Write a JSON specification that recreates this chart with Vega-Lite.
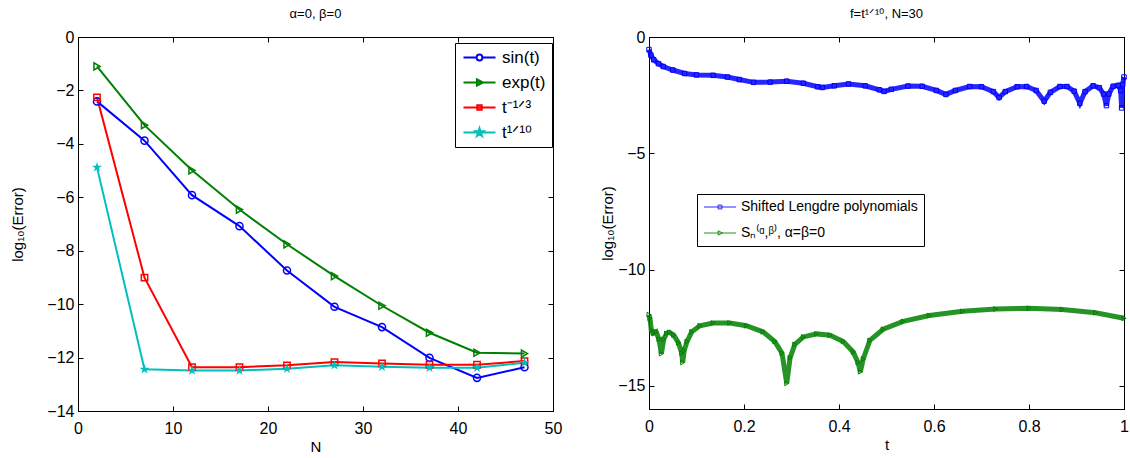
{
  "$schema": "https://vega.github.io/schema/vega-lite/v6.json",
  "spacing": 37,
  "padding": {"left": 10, "top": 7, "right": 5, "bottom": 5},
  "resolve": {"scale": {"color": "independent", "shape": "independent"}, "legend": {"color": "independent", "shape": "independent"}},
  "datasets": {
    "left": [
      {"N": 2, "series": "sin(t)", "v": -2.41}, {"N": 7, "series": "sin(t)", "v": -3.88}, {"N": 12, "series": "sin(t)", "v": -5.92}, {"N": 17, "series": "sin(t)", "v": -7.08}, {"N": 22, "series": "sin(t)", "v": -8.74}, {"N": 27, "series": "sin(t)", "v": -10.1}, {"N": 32, "series": "sin(t)", "v": -10.86}, {"N": 37, "series": "sin(t)", "v": -12.01}, {"N": 42, "series": "sin(t)", "v": -12.76}, {"N": 47, "series": "sin(t)", "v": -12.36},
      {"N": 2, "series": "exp(t)", "v": -1.1}, {"N": 7, "series": "exp(t)", "v": -3.3}, {"N": 12, "series": "exp(t)", "v": -4.99}, {"N": 17, "series": "exp(t)", "v": -6.46}, {"N": 22, "series": "exp(t)", "v": -7.76}, {"N": 27, "series": "exp(t)", "v": -8.95}, {"N": 32, "series": "exp(t)", "v": -10.06}, {"N": 37, "series": "exp(t)", "v": -11.07}, {"N": 42, "series": "exp(t)", "v": -11.82}, {"N": 47, "series": "exp(t)", "v": -11.85},
      {"N": 2, "series": "t⁻¹ᐟ³", "v": -2.26}, {"N": 7, "series": "t⁻¹ᐟ³", "v": -9.01}, {"N": 12, "series": "t⁻¹ᐟ³", "v": -12.36}, {"N": 17, "series": "t⁻¹ᐟ³", "v": -12.36}, {"N": 22, "series": "t⁻¹ᐟ³", "v": -12.29}, {"N": 27, "series": "t⁻¹ᐟ³", "v": -12.17}, {"N": 32, "series": "t⁻¹ᐟ³", "v": -12.22}, {"N": 37, "series": "t⁻¹ᐟ³", "v": -12.27}, {"N": 42, "series": "t⁻¹ᐟ³", "v": -12.27}, {"N": 47, "series": "t⁻¹ᐟ³", "v": -12.13},
      {"N": 2, "series": "t¹ᐟ¹⁰", "v": -4.88}, {"N": 7, "series": "t¹ᐟ¹⁰", "v": -12.44}, {"N": 12, "series": "t¹ᐟ¹⁰", "v": -12.48}, {"N": 17, "series": "t¹ᐟ¹⁰", "v": -12.48}, {"N": 22, "series": "t¹ᐟ¹⁰", "v": -12.42}, {"N": 27, "series": "t¹ᐟ¹⁰", "v": -12.29}, {"N": 32, "series": "t¹ᐟ¹⁰", "v": -12.34}, {"N": 37, "series": "t¹ᐟ¹⁰", "v": -12.38}, {"N": 42, "series": "t¹ᐟ¹⁰", "v": -12.38}, {"N": 47, "series": "t¹ᐟ¹⁰", "v": -12.19}
    ],
    "right": [
      {"s": "Shifted Lengdre polynomials", "t": 0, "v": -0.54}, {"s": "Shifted Lengdre polynomials", "t": 0.004, "v": -0.78}, {"s": "Shifted Lengdre polynomials", "t": 0.01, "v": -0.98}, {"s": "Shifted Lengdre polynomials", "t": 0.02, "v": -1.15}, {"s": "Shifted Lengdre polynomials", "t": 0.03, "v": -1.27}, {"s": "Shifted Lengdre polynomials", "t": 0.05, "v": -1.42}, {"s": "Shifted Lengdre polynomials", "t": 0.075, "v": -1.57}, {"s": "Shifted Lengdre polynomials", "t": 0.1, "v": -1.63}, {"s": "Shifted Lengdre polynomials", "t": 0.135, "v": -1.65}, {"s": "Shifted Lengdre polynomials", "t": 0.165, "v": -1.72}, {"s": "Shifted Lengdre polynomials", "t": 0.19, "v": -1.83}, {"s": "Shifted Lengdre polynomials", "t": 0.22, "v": -1.95}, {"s": "Shifted Lengdre polynomials", "t": 0.255, "v": -1.94}, {"s": "Shifted Lengdre polynomials", "t": 0.29, "v": -1.9}, {"s": "Shifted Lengdre polynomials", "t": 0.325, "v": -1.99}, {"s": "Shifted Lengdre polynomials", "t": 0.355, "v": -2.14}, {"s": "Shifted Lengdre polynomials", "t": 0.365, "v": -2.17}, {"s": "Shifted Lengdre polynomials", "t": 0.39, "v": -2.1}, {"s": "Shifted Lengdre polynomials", "t": 0.42, "v": -2.02}, {"s": "Shifted Lengdre polynomials", "t": 0.455, "v": -2.1}, {"s": "Shifted Lengdre polynomials", "t": 0.485, "v": -2.27}, {"s": "Shifted Lengdre polynomials", "t": 0.495, "v": -2.34}, {"s": "Shifted Lengdre polynomials", "t": 0.51, "v": -2.25}, {"s": "Shifted Lengdre polynomials", "t": 0.545, "v": -2.11}, {"s": "Shifted Lengdre polynomials", "t": 0.575, "v": -2.12}, {"s": "Shifted Lengdre polynomials", "t": 0.605, "v": -2.3}, {"s": "Shifted Lengdre polynomials", "t": 0.625, "v": -2.47}, {"s": "Shifted Lengdre polynomials", "t": 0.645, "v": -2.3}, {"s": "Shifted Lengdre polynomials", "t": 0.675, "v": -2.13}, {"s": "Shifted Lengdre polynomials", "t": 0.7, "v": -2.14}, {"s": "Shifted Lengdre polynomials", "t": 0.725, "v": -2.35}, {"s": "Shifted Lengdre polynomials", "t": 0.737, "v": -2.6}, {"s": "Shifted Lengdre polynomials", "t": 0.75, "v": -2.35}, {"s": "Shifted Lengdre polynomials", "t": 0.775, "v": -2.14}, {"s": "Shifted Lengdre polynomials", "t": 0.795, "v": -2.13}, {"s": "Shifted Lengdre polynomials", "t": 0.815, "v": -2.3}, {"s": "Shifted Lengdre polynomials", "t": 0.832, "v": -2.76}, {"s": "Shifted Lengdre polynomials", "t": 0.845, "v": -2.38}, {"s": "Shifted Lengdre polynomials", "t": 0.865, "v": -2.13}, {"s": "Shifted Lengdre polynomials", "t": 0.88, "v": -2.13}, {"s": "Shifted Lengdre polynomials", "t": 0.895, "v": -2.33}, {"s": "Shifted Lengdre polynomials", "t": 0.907, "v": -2.85}, {"s": "Shifted Lengdre polynomials", "t": 0.918, "v": -2.35}, {"s": "Shifted Lengdre polynomials", "t": 0.935, "v": -2.1}, {"s": "Shifted Lengdre polynomials", "t": 0.948, "v": -2.18}, {"s": "Shifted Lengdre polynomials", "t": 0.957, "v": -2.45}, {"s": "Shifted Lengdre polynomials", "t": 0.963, "v": -2.95}, {"s": "Shifted Lengdre polynomials", "t": 0.968, "v": -2.45}, {"s": "Shifted Lengdre polynomials", "t": 0.977, "v": -2.12}, {"s": "Shifted Lengdre polynomials", "t": 0.988, "v": -2.08}, {"s": "Shifted Lengdre polynomials", "t": 0.993, "v": -2.3}, {"s": "Shifted Lengdre polynomials", "t": 0.995, "v": -3.05}, {"s": "Shifted Lengdre polynomials", "t": 0.997, "v": -2.05}, {"s": "Shifted Lengdre polynomials", "t": 1.0, "v": -1.72},
      {"s": "Sₙ⁽ᵅ,ᵝ⁾, α=β=0", "t": 0, "v": -11.94}, {"s": "Sₙ⁽ᵅ,ᵝ⁾, α=β=0", "t": 0.002, "v": -12.1}, {"s": "Sₙ⁽ᵅ,ᵝ⁾, α=β=0", "t": 0.005, "v": -12.6}, {"s": "Sₙ⁽ᵅ,ᵝ⁾, α=β=0", "t": 0.009, "v": -12.74}, {"s": "Sₙ⁽ᵅ,ᵝ⁾, α=β=0", "t": 0.015, "v": -12.68}, {"s": "Sₙ⁽ᵅ,ᵝ⁾, α=β=0", "t": 0.021, "v": -13.0}, {"s": "Sₙ⁽ᵅ,ᵝ⁾, α=β=0", "t": 0.026, "v": -13.62}, {"s": "Sₙ⁽ᵅ,ᵝ⁾, α=β=0", "t": 0.031, "v": -13.0}, {"s": "Sₙ⁽ᵅ,ᵝ⁾, α=β=0", "t": 0.037, "v": -12.75}, {"s": "Sₙ⁽ᵅ,ᵝ⁾, α=β=0", "t": 0.043, "v": -12.7}, {"s": "Sₙ⁽ᵅ,ᵝ⁾, α=β=0", "t": 0.052, "v": -12.82}, {"s": "Sₙ⁽ᵅ,ᵝ⁾, α=β=0", "t": 0.062, "v": -13.15}, {"s": "Sₙ⁽ᵅ,ᵝ⁾, α=β=0", "t": 0.069, "v": -13.6}, {"s": "Sₙ⁽ᵅ,ᵝ⁾, α=β=0", "t": 0.071, "v": -14.0}, {"s": "Sₙ⁽ᵅ,ᵝ⁾, α=β=0", "t": 0.074, "v": -13.5}, {"s": "Sₙ⁽ᵅ,ᵝ⁾, α=β=0", "t": 0.08, "v": -13.1}, {"s": "Sₙ⁽ᵅ,ᵝ⁾, α=β=0", "t": 0.09, "v": -12.68}, {"s": "Sₙ⁽ᵅ,ᵝ⁾, α=β=0", "t": 0.107, "v": -12.42}, {"s": "Sₙ⁽ᵅ,ᵝ⁾, α=β=0", "t": 0.135, "v": -12.3}, {"s": "Sₙ⁽ᵅ,ᵝ⁾, α=β=0", "t": 0.17, "v": -12.3}, {"s": "Sₙ⁽ᵅ,ᵝ⁾, α=β=0", "t": 0.205, "v": -12.42}, {"s": "Sₙ⁽ᵅ,ᵝ⁾, α=β=0", "t": 0.24, "v": -12.68}, {"s": "Sₙ⁽ᵅ,ᵝ⁾, α=β=0", "t": 0.265, "v": -13.1}, {"s": "Sₙ⁽ᵅ,ᵝ⁾, α=β=0", "t": 0.28, "v": -13.6}, {"s": "Sₙ⁽ᵅ,ᵝ⁾, α=β=0", "t": 0.29, "v": -14.9}, {"s": "Sₙ⁽ᵅ,ᵝ⁾, α=β=0", "t": 0.297, "v": -13.8}, {"s": "Sₙ⁽ᵅ,ᵝ⁾, α=β=0", "t": 0.307, "v": -13.22}, {"s": "Sₙ⁽ᵅ,ᵝ⁾, α=β=0", "t": 0.325, "v": -12.9}, {"s": "Sₙ⁽ᵅ,ᵝ⁾, α=β=0", "t": 0.353, "v": -12.77}, {"s": "Sₙ⁽ᵅ,ᵝ⁾, α=β=0", "t": 0.381, "v": -12.83}, {"s": "Sₙ⁽ᵅ,ᵝ⁾, α=β=0", "t": 0.409, "v": -13.1}, {"s": "Sₙ⁽ᵅ,ᵝ⁾, α=β=0", "t": 0.43, "v": -13.55}, {"s": "Sₙ⁽ᵅ,ᵝ⁾, α=β=0", "t": 0.44, "v": -14.0}, {"s": "Sₙ⁽ᵅ,ᵝ⁾, α=β=0", "t": 0.445, "v": -14.4}, {"s": "Sₙ⁽ᵅ,ᵝ⁾, α=β=0", "t": 0.451, "v": -13.85}, {"s": "Sₙ⁽ᵅ,ᵝ⁾, α=β=0", "t": 0.465, "v": -13.05}, {"s": "Sₙ⁽ᵅ,ᵝ⁾, α=β=0", "t": 0.493, "v": -12.57}, {"s": "Sₙ⁽ᵅ,ᵝ⁾, α=β=0", "t": 0.535, "v": -12.23}, {"s": "Sₙ⁽ᵅ,ᵝ⁾, α=β=0", "t": 0.59, "v": -11.98}, {"s": "Sₙ⁽ᵅ,ᵝ⁾, α=β=0", "t": 0.66, "v": -11.8}, {"s": "Sₙ⁽ᵅ,ᵝ⁾, α=β=0", "t": 0.73, "v": -11.7}, {"s": "Sₙ⁽ᵅ,ᵝ⁾, α=β=0", "t": 0.8, "v": -11.67}, {"s": "Sₙ⁽ᵅ,ᵝ⁾, α=β=0", "t": 0.87, "v": -11.72}, {"s": "Sₙ⁽ᵅ,ᵝ⁾, α=β=0", "t": 0.94, "v": -11.86}, {"s": "Sₙ⁽ᵅ,ᵝ⁾, α=β=0", "t": 1.0, "v": -12.1}
    ]
  },
  "hconcat": [
    {
      "width": 475,
      "height": 374,
      "title": {"text": "α=0, β=0"},
      "data": {"name": "left"},
      "resolve": {"axis": {"x": "independent", "y": "independent"}},
      "layer": [
        {
          "mark": {"type": "line", "strokeWidth": 2},
          "encoding": {
            "x": {"field": "N", "type": "quantitative", "scale": {"domain": [0, 50]}, "axis": {"title": "N", "values": [0, 10, 20, 30, 40, 50]}},
            "y": {"field": "v", "type": "quantitative", "scale": {"domain": [-14, 0]}, "axis": {"title": "log₁₀(Error)", "titlePadding": 21, "values": [-14, -12, -10, -8, -6, -4, -2, 0]}},
            "color": {"field": "series", "type": "nominal", "scale": {"domain": ["sin(t)", "exp(t)", "t⁻¹ᐟ³", "t¹ᐟ¹⁰"], "range": ["#0000ff", "#008000", "#ff0000", "#00bfbf"]}, "legend": {"title": null, "orient": "none", "legendX": 377, "legendY": 6, "labelFontSize": 17, "rowPadding": 7, "symbolSize": 164, "symbolOffset": 10, "labelOffset": 14, "symbolStrokeWidth": 2}}
          }
        },
        {
          "transform": [{"filter": "datum.series === 'sin(t)'"}],
          "mark": {"type": "point", "shape": "circle", "filled": false, "size": 50, "strokeWidth": 1.5, "color": "#0000ff", "opacity": 1},
          "encoding": {
            "x": {"field": "N", "type": "quantitative", "axis": {"orient": "top", "labels": false, "title": null, "values": [0, 10, 20, 30, 40, 50]}},
            "y": {"field": "v", "type": "quantitative", "axis": {"orient": "right", "labels": false, "title": null, "values": [-14, -12, -10, -8, -6, -4, -2, 0]}}
          }
        },
        {
          "transform": [{"filter": "datum.series === 'exp(t)'"}],
          "mark": {"type": "point", "shape": "triangle-right", "filled": false, "size": 50, "strokeWidth": 1.5, "color": "#008000", "opacity": 1},
          "encoding": {"x": {"field": "N", "type": "quantitative", "axis": null}, "y": {"field": "v", "type": "quantitative", "axis": null}}
        },
        {
          "transform": [{"filter": "datum.series === 't⁻¹ᐟ³'"}],
          "mark": {"type": "point", "shape": "square", "filled": false, "size": 40, "strokeWidth": 1.5, "color": "#ff0000", "opacity": 1},
          "encoding": {"x": {"field": "N", "type": "quantitative", "axis": null}, "y": {"field": "v", "type": "quantitative", "axis": null}}
        },
        {
          "transform": [{"filter": "datum.series === 't¹ᐟ¹⁰'"}],
          "mark": {"type": "point", "shape": "M0,-1L0.2245,-0.309L0.951,-0.309L0.3633,0.118L0.5878,0.809L0,0.382L-0.5878,0.809L-0.3633,0.118L-0.951,-0.309L-0.2245,-0.309Z", "filled": true, "size": 110, "strokeWidth": 1, "color": "#00bfbf", "opacity": 1},
          "encoding": {"x": {"field": "N", "type": "quantitative", "axis": null}, "y": {"field": "v", "type": "quantitative", "axis": null}}
        },
        {
          "transform": [{"filter": "datum.N < -100"}],
          "mark": {"type": "point", "filled": false, "size": 164, "strokeWidth": 2, "opacity": 1},
          "encoding": {
            "x": {"field": "N", "type": "quantitative", "axis": null},
            "y": {"field": "v", "type": "quantitative", "axis": null},
            "color": {"field": "series", "type": "nominal", "legend": {"title": null, "orient": "none", "legendX": 377, "legendY": 6, "labelFontSize": 17, "rowPadding": 7, "symbolSize": 164, "symbolOffset": 10, "labelOffset": 14, "symbolStrokeWidth": 2}},
            "shape": {"field": "series", "type": "nominal", "scale": {"domain": ["sin(t)", "exp(t)", "t⁻¹ᐟ³", "t¹ᐟ¹⁰"], "range": ["M-2.5,0H-0.45M0.45,0H2.5M-0.45,0A0.45,0.45,0,1,0,0.45,0A0.45,0.45,0,1,0,-0.45,0", "M-2.5,0H2.5M-0.4,-0.5L0.55,0L-0.4,0.5Z", "M-2.5,0H2.5M-0.35,-0.35H0.35V0.35H-0.35Z", "M-2.5,0H2.5M0,-0.65L0.146,-0.201L0.618,-0.201L0.236,0.077L0.382,0.526L0,0.248L-0.382,0.526L-0.236,0.077L-0.618,-0.201L-0.146,-0.201Z"]}, "legend": {"title": null, "orient": "none", "legendX": 377, "legendY": 6, "labelFontSize": 17, "rowPadding": 7, "symbolSize": 164, "symbolOffset": 10, "labelOffset": 14, "symbolStrokeWidth": 2}}
          }
        }
      ]
    },
    {
      "width": 475,
      "height": 372,
      "title": {"text": "f=t¹ᐟ¹⁰, N=30"},
      "data": {"name": "right"},
      "resolve": {"axis": {"x": "independent", "y": "independent"}},
      "layer": [
        {
          "mark": {"type": "line", "strokeWidth": 5, "opacity": 0.85},
          "encoding": {
            "x": {"field": "t", "type": "quantitative", "scale": {"domain": [0, 1]}, "axis": {"title": "t", "values": [0, 0.2, 0.4, 0.6, 0.8, 1], "labelExpr": "'' + datum.value"}},
            "y": {"field": "v", "type": "quantitative", "scale": {"domain": [-15, 0]}, "axis": {"title": "log₁₀(Error)", "titlePadding": 2, "values": [-15, -10, -5, 0]}},
            "color": {"field": "s", "type": "nominal", "scale": {"domain": ["Shifted Lengdre polynomials", "Sₙ⁽ᵅ,ᵝ⁾, α=β=0"], "range": ["#0000ff", "#008000"]}, "legend": {"title": null, "orient": "none", "legendX": 48, "legendY": 157, "labelFontSize": 14, "rowPadding": 12, "symbolSize": 164, "symbolOffset": 10, "labelOffset": 14, "symbolStrokeWidth": 1}}
          }
        },
        {
          "transform": [{"filter": "datum.s === 'Shifted Lengdre polynomials'"}],
          "mark": {"type": "point", "shape": "square", "filled": false, "size": 20, "strokeWidth": 1, "color": "#0000ff", "opacity": 1},
          "encoding": {
            "x": {"field": "t", "type": "quantitative", "axis": {"orient": "top", "labels": false, "title": null, "values": [0, 0.2, 0.4, 0.6, 0.8, 1]}},
            "y": {"field": "v", "type": "quantitative", "axis": {"orient": "right", "labels": false, "title": null, "values": [-15, -10, -5, 0]}}
          }
        },
        {
          "transform": [{"filter": "datum.s !== 'Shifted Lengdre polynomials'"}],
          "mark": {"type": "point", "shape": "triangle-right", "filled": false, "size": 22, "strokeWidth": 1, "color": "#008000", "opacity": 1},
          "encoding": {"x": {"field": "t", "type": "quantitative", "axis": null}, "y": {"field": "v", "type": "quantitative", "axis": null}}
        },
        {
          "transform": [{"filter": "datum.t < -100"}],
          "mark": {"type": "point", "filled": false, "size": 164, "strokeWidth": 1, "opacity": 1},
          "encoding": {
            "x": {"field": "t", "type": "quantitative", "axis": null},
            "y": {"field": "v", "type": "quantitative", "axis": null},
            "color": {"field": "s", "type": "nominal", "legend": {"title": null, "orient": "none", "legendX": 48, "legendY": 157, "labelFontSize": 14, "rowPadding": 12, "symbolSize": 164, "symbolOffset": 10, "labelOffset": 14, "symbolStrokeWidth": 1}},
            "shape": {"field": "s", "type": "nominal", "scale": {"domain": ["Shifted Lengdre polynomials", "Sₙ⁽ᵅ,ᵝ⁾, α=β=0"], "range": ["M-2.5,0H2.5M-0.3,-0.3H0.3V0.3H-0.3Z", "M-2.5,0H2.5M-0.3,-0.35L0.4,0L-0.3,0.35Z"]}, "legend": {"title": null, "orient": "none", "legendX": 48, "legendY": 157, "labelFontSize": 14, "rowPadding": 12, "symbolSize": 164, "symbolOffset": 10, "labelOffset": 14, "symbolStrokeWidth": 1}}
          }
        }
      ]
    }
  ],
  "config": {
    "font": "Liberation Sans",
    "view": {"stroke": "black", "strokeWidth": 1},
    "axis": {"grid": false, "domainColor": "black", "tickColor": "black", "labelColor": "black", "titleColor": "black", "labelFont": "Liberation Sans", "titleFont": "Liberation Sans", "labelFontSize": 16, "titleFontSize": 15, "titleFontWeight": "normal", "tickSize": -5, "labelFlush": false, "labelOverlap": false},
    "axisX": {"titlePadding": 3, "labelPadding": 14},
    "axisY": {"labelPadding": 9},
    "legend": {"strokeColor": "black", "fillColor": "white", "padding": 6, "labelFont": "Liberation Sans", "labelColor": "black", "symbolFillColor": "transparent", "labelLimit": 300},
    "title": {"font": "Liberation Sans", "fontSize": 13, "fontWeight": "normal", "color": "black", "offset": 8}
  }
}
